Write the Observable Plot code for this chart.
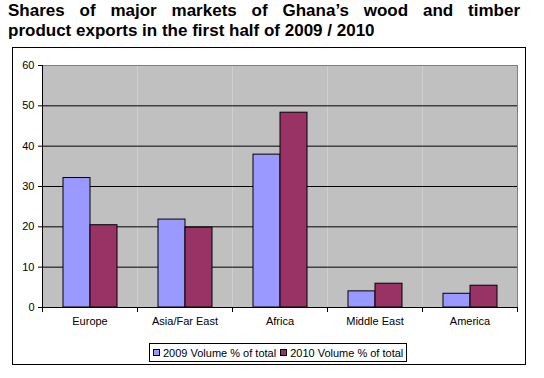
<!DOCTYPE html>
<html>
<head>
<meta charset="utf-8">
<script src="https://cdn.jsdelivr.net/npm/d3@7"></script>
<script src="https://cdn.jsdelivr.net/npm/@observablehq/plot@0.6"></script>
<style>
  html, body { margin: 0; padding: 0; background: #fff; }
  body { width: 544px; height: 378px; position: relative; overflow: hidden; font-family: "Liberation Sans", Arial, sans-serif; }
  #title { position: absolute; left: 8px; top: 1px; width: 512px; font-weight: bold; font-size: 17px; line-height: 20px; color: #000; }
  #title .l1 { display: block; text-align: justify; text-align-last: justify; white-space: normal; }
  #title .l2 { display: block; text-align: left; }
  #box { position: absolute; left: 12px; top: 47px; width: 512px; height: 316px; border: 1px solid #000; }
  #chart { position: absolute; left: 0; top: 47px; }
  #legend { position: absolute; left: 149px; top: 343px; width: 258px; height: 19px; border: 1px solid #000; font-size: 11px; display: flex; align-items: center; box-sizing: border-box; padding-left: 3px; white-space: nowrap; }
  .sw { display: inline-block; width: 7px; height: 7px; border: 1px solid #000; margin-right: 3px; box-sizing: border-box; flex: none; }
  .item { display: flex; align-items: center; margin-right: 4px; flex: none; white-space: nowrap; }
</style>
</head>
<body>
<div id="title"><span class="l1">Shares of major markets of Ghana’s wood and timber</span><span class="l2">product exports in the first half of 2009 / 2010</span></div>
<div id="box"></div>
<div id="chart"></div>
<div id="legend"></div>
<script>
const categories = ["Europe", "Asia/Far East", "Africa", "Middle East", "America"];
const seriesNames = ["2009 Volume % of total", "2010 Volume % of total"];
const seriesKeys = ["2009", "2010"];
const values2009 = [32.1, 21.8, 37.9, 4.0, 3.4];
const values2010 = [20.4, 19.8, 48.3, 5.9, 5.4];
const yTicks = [0, 10, 20, 30, 40, 50, 60];
const colors = ["#9999ff", "#993366"];

const rows = [];
categories.forEach((c, i) => {
  rows.push({category: c, series: seriesKeys[0], value: values2009[i]});
  rows.push({category: c, series: seriesKeys[1], value: values2010[i]});
});

const W = 544, H = 290, mL = 42, mR = 27, mT = 18, mB = 30;
const plotH = H - mT - mB;

const chart = Plot.plot({
  width: W,
  height: H,
  marginLeft: mL,
  marginRight: mR,
  marginTop: mT,
  marginBottom: mB,
  style: {fontFamily: "Liberation Sans, Arial, sans-serif", fontSize: "11px", color: "#000", background: "transparent"},
  fx: {domain: categories, paddingInner: 0, paddingOuter: 0, label: null},
  x: {domain: seriesKeys, paddingInner: 0, paddingOuter: 0.7, axis: null},
  y: {domain: [0, 60], label: null},
  color: {domain: seriesKeys, range: colors},
  marks: [
    Plot.frame({fill: "#c0c0c0", stroke: null}),
    Plot.gridY(yTicks, {stroke: "#000", strokeOpacity: 1}),
    Plot.ruleY([60], {stroke: "#808080"}),
    Plot.frame({anchor: "right", stroke: "#808080", facetAnchor: "right"}),
    Plot.barY(rows, {fx: "category", x: "series", y: "value", fill: "series", stroke: "#000", strokeWidth: 1}),
    Plot.ruleY([0], {stroke: "#000"}),
    Plot.frame({anchor: "left", stroke: "#000", facetAnchor: "left"}),
    Plot.frame({anchor: "left", stroke: "#000", insetTop: plotH, insetBottom: -4}),
    Plot.frame({anchor: "right", stroke: "#000", insetTop: plotH, insetBottom: -4, facetAnchor: "right"}),
    Plot.axisY(yTicks, {tickSize: 4, tickPadding: 4, fontSize: 11, label: null, stroke: "#000"}),
    Plot.axisFx({anchor: "bottom", tickSize: 0, tickPadding: 10, fontSize: 11, label: null})
  ]
});
document.getElementById("chart").appendChild(chart);

const legend = document.getElementById("legend");
seriesNames.forEach((name, i) => {
  const item = document.createElement("span");
  item.className = "item";
  const sw = document.createElement("span");
  sw.className = "sw";
  sw.style.background = colors[i];
  item.appendChild(sw);
  item.appendChild(document.createTextNode(name));
  legend.appendChild(item);
});
</script>
</body>
</html>
